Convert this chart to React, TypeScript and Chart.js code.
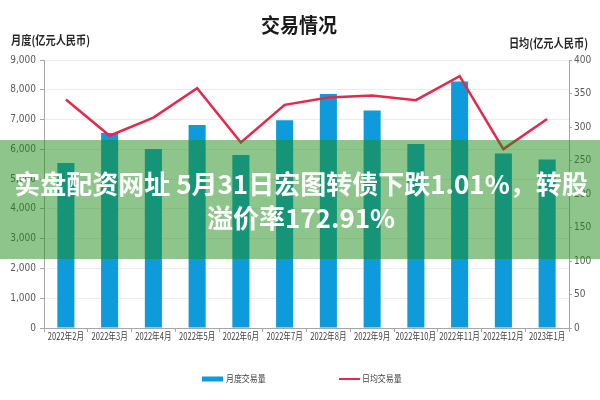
import React, { useEffect, useRef } from "react";
import { Chart, registerables } from "chart.js";

Chart.register(...registerables);

const categories = [
  "2022年2月", "2022年3月", "2022年4月", "2022年5月", "2022年6月", "2022年7月",
  "2022年8月", "2022年9月", "2022年10月", "2022年11月", "2022年12月", "2023年1月",
];
const monthlyVolume = [5540, 6550, 6010, 6820, 5810, 6980, 7860, 7300, 6180, 8280, 5860, 5660];
const dailyAverage = [341, 287, 314, 358, 277, 333, 344, 347, 340, 376, 267, 312];
const seriesNames = ["月度交易量", "日均交易量"];
const chartTitle = "交易情况";
const leftAxisTitle = "月度(亿元人民币)";
const rightAxisTitle = "日均(亿元人民币)";
const leftAxisMax = 9000;
const leftAxisStep = 1000;
const rightAxisMax = 400;
const rightAxisStep = 50;
const overlayLines = ["实盘配资网址 5月31日宏图转债下跌1.01%，转股", "溢价率172.91%"];

const BAR_COLOR = "#0E9BDB";
const LINE_COLOR = "#E6284B";
const NARROW = "'Liberation Sans Narrow', 'DejaVu Sans Condensed', 'Noto Sans CJK SC', sans-serif";
const CJK = "'Noto Sans CJK SC', 'Noto Sans', sans-serif";

function drawText(
  ctx: CanvasRenderingContext2D,
  text: string,
  x: number,
  y: number,
  font: string,
  color: string,
  align: CanvasTextAlign,
  sx = 1
) {
  ctx.save();
  ctx.font = font;
  ctx.fillStyle = color;
  ctx.textAlign = align;
  ctx.textBaseline = "middle";
  ctx.translate(x, y);
  ctx.scale(sx, 1);
  ctx.fillText(text, 0, 0);
  ctx.restore();
}

const decorPlugin = {
  id: "decor",
  afterDraw(chart: any) {
    const ctx: CanvasRenderingContext2D = chart.ctx;
    // category labels, positioned by the x scale, drawn condensed
    const xs = chart.scales.x;
    const labels: string[] = chart.data.labels;
    labels.forEach((lab, i) => {
      drawText(ctx, lab, xs.getPixelForTick(i), 336, `10px ${CJK}`, "#404040", "center", 0.76);
    });

    // title and axis titles
    drawText(ctx, chartTitle, 299, 25, `bold 20px ${CJK}`, "#1a1a1a", "center", 0.95);
    drawText(ctx, leftAxisTitle, 11, 40, `bold 12px ${CJK}`, "#262626", "left", 0.85);
    drawText(ctx, rightAxisTitle, 588, 43, `bold 12px ${CJK}`, "#262626", "right", 0.85);

    // legend
    const ds = chart.data.datasets;
    const ly = 379;
    ctx.save();
    ctx.fillStyle = ds[1].backgroundColor;
    ctx.fillRect(202, ly - 2.5, 21, 5);
    ctx.strokeStyle = ds[0].borderColor;
    ctx.lineWidth = 2;
    ctx.beginPath();
    ctx.moveTo(339, ly);
    ctx.lineTo(360, ly);
    ctx.stroke();
    ctx.restore();
    drawText(ctx, ds[1].label, 226, ly, `9px ${CJK}`, "#404040", "left", 0.88);
    drawText(ctx, ds[0].label, 362, ly, `9px ${CJK}`, "#404040", "left", 0.88);

    // overlay band
    ctx.save();
    ctx.fillStyle = "rgba(31,141,25,0.51)";
    ctx.fillRect(0, 140, 600, 119);
    ctx.restore();
    drawText(ctx, overlayLines[0], 301, 184, `bold 26px ${CJK}`, "#ffffff", "center");
    drawText(ctx, overlayLines[1], 301, 218, `bold 26px ${CJK}`, "#ffffff", "center");
  },
};

export default function App() {
  const ref = useRef<HTMLCanvasElement | null>(null);

  useEffect(() => {
    document.body.style.margin = "0";
    const canvas = ref.current;
    if (!canvas) return;
    const tickFont = { family: NARROW, size: 10 };
    const chart = new Chart(canvas, {
      type: "bar",
      data: {
        labels: categories,
        datasets: [
          {
            type: "line",
            label: seriesNames[1],
            data: dailyAverage,
            yAxisID: "y1",
            borderColor: LINE_COLOR,
            backgroundColor: LINE_COLOR,
            borderWidth: 2.5,
            pointRadius: 0,
            tension: 0,
            order: 0,
          } as any,
          {
            type: "bar",
            label: seriesNames[0],
            data: monthlyVolume,
            yAxisID: "y",
            backgroundColor: BAR_COLOR,
            borderWidth: 0,
            barPercentage: 0.39,
            categoryPercentage: 1,
            order: 1,
          } as any,
        ],
      },
      options: {
        responsive: false,
        animation: false,
        layout: { padding: { top: 60, left: 0, right: 0, bottom: 0 } },
        plugins: {
          legend: { display: false },
          title: { display: false },
          tooltip: { enabled: false },
        },
        scales: {
          x: {
            grid: {
              display: true,
              drawOnChartArea: false,
              drawTicks: true,
              tickLength: 4,
              color: "#a6a6a6",
              offset: true,
            },
            border: { display: true, color: "#a6a6a6" },
            ticks: { display: false, autoSkip: false, maxRotation: 0, minRotation: 0 },
            afterFit: (s: any) => {
              s.height = 72;
            },
          },
          y: {
            position: "left",
            min: 0,
            max: leftAxisMax,
            ticks: {
              stepSize: leftAxisStep,
              font: tickFont,
              color: "#595959",
              padding: 4,
              callback: (v: any) => Number(v).toLocaleString("en-US"),
            },
            grid: {
              color: "#ececec",
              tickColor: "#a6a6a6",
              tickLength: 4,
              drawTicks: true,
            },
            border: { display: true, color: "#a6a6a6" },
            afterFit: (s: any) => {
              s.width = 44;
            },
          },
          y1: {
            position: "right",
            min: 0,
            max: rightAxisMax,
            ticks: {
              stepSize: rightAxisStep,
              font: tickFont,
              color: "#595959",
              padding: 2,
            },
            grid: {
              drawOnChartArea: false,
              tickColor: "#a6a6a6",
              tickLength: 3,
              drawTicks: true,
            },
            border: { display: true, color: "#a6a6a6" },
            afterFit: (s: any) => {
              s.width = 31;
            },
          },
        },
      },
      plugins: [decorPlugin],
    });
    return () => chart.destroy();
  }, []);

  return (
    <div style={{ position: "absolute", left: 0, top: 0, width: 600, height: 400, background: "#fff" }}>
      <canvas ref={ref} width={600} height={400} style={{ display: "block" }} />
    </div>
  );
}
